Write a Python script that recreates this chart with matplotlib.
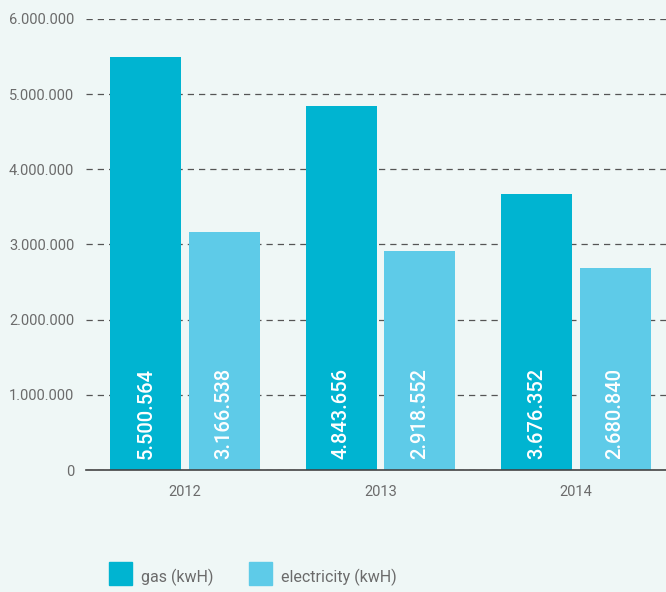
import matplotlib
matplotlib.use("Agg")
import matplotlib.pyplot as plt
from matplotlib.patches import Rectangle

years = ["2012", "2013", "2014"]
gas = [5500564, 4843656, 3676352]
electricity = [3166538, 2918552, 2680840]
gas_labels = ["5.500.564", "4.843.656", "3.676.352"]
elec_labels = ["3.166.538", "2.918.552", "2.680.840"]
yticks = [0, 1000000, 2000000, 3000000, 4000000, 5000000, 6000000]
ytick_labels = ["0", "1.000.000", "2.000.000", "3.000.000", "4.000.000", "5.000.000", "6.000.000"]

bg = "#eff7f6"
gas_c = "#00b4d1"
elec_c = "#5ecbe8"
txt_c = "#6b6b6b"

plt.rcParams['font.family'] = ['Roboto', 'DejaVu Sans']

fig = plt.figure(figsize=(6.66, 5.92), dpi=100, facecolor=bg)
ax = fig.add_axes([86/666, (592-470)/592, 1-86/666, (470-19)/592])
ax.set_facecolor(bg)

x = list(range(len(years)))
w = 0.363
off = 0.2
gx = [i - off for i in x]
ex = [i + off for i in x]
ax.bar(gx, gas, width=w, color=gas_c, zorder=3)
ax.bar(ex, electricity, width=w, color=elec_c, zorder=3)

for xi, lab in zip(gx, gas_labels):
    ax.text(xi, 150000, lab, rotation=90, color="white", fontsize=14.5,
            fontweight="medium", ha="center", va="bottom", zorder=4)
for xi, lab in zip(ex, elec_labels):
    ax.text(xi, 150000, lab, rotation=90, color="white", fontsize=14.5,
            fontweight="medium", ha="center", va="bottom", zorder=4)

ax.set_xlim(-0.506, 2.46)
ax.set_ylim(0, 6000000)
ax.set_yticks(yticks)
ax.set_yticklabels(ytick_labels)
ax.set_xticks(x)
ax.set_xticklabels(years)
ax.tick_params(axis="both", length=0, colors=txt_c, labelsize=10.5)
ax.tick_params(axis="y", pad=8.5)
ax.tick_params(axis="x", pad=11)
ax.yaxis.grid(True, linestyle=(0, (5, 4)), color="#555555", linewidth=0.9, zorder=1)
for s in ["top", "right", "left"]:
    ax.spines[s].set_visible(False)
ax.spines["bottom"].set_color("#444444")
ax.spines["bottom"].set_linewidth(1.2)
ax.spines["bottom"].set_zorder(5)

# legend
sq = 23
for (lx, tx, col, lab) in [(109, 141, gas_c, "gas (kwH)"), (249, 281, elec_c, "electricity (kwH)")]:
    fig.patches.append(Rectangle((lx/666, (592-585)/592), sq/666, sq/592,
                                 transform=fig.transFigure, color=col, figure=fig))
    fig.text(tx/666, (592-586)/592, lab, color=txt_c, fontsize=11.5, ha="left", va="bottom")

fig.savefig("out.png", dpi=100, facecolor=bg)
